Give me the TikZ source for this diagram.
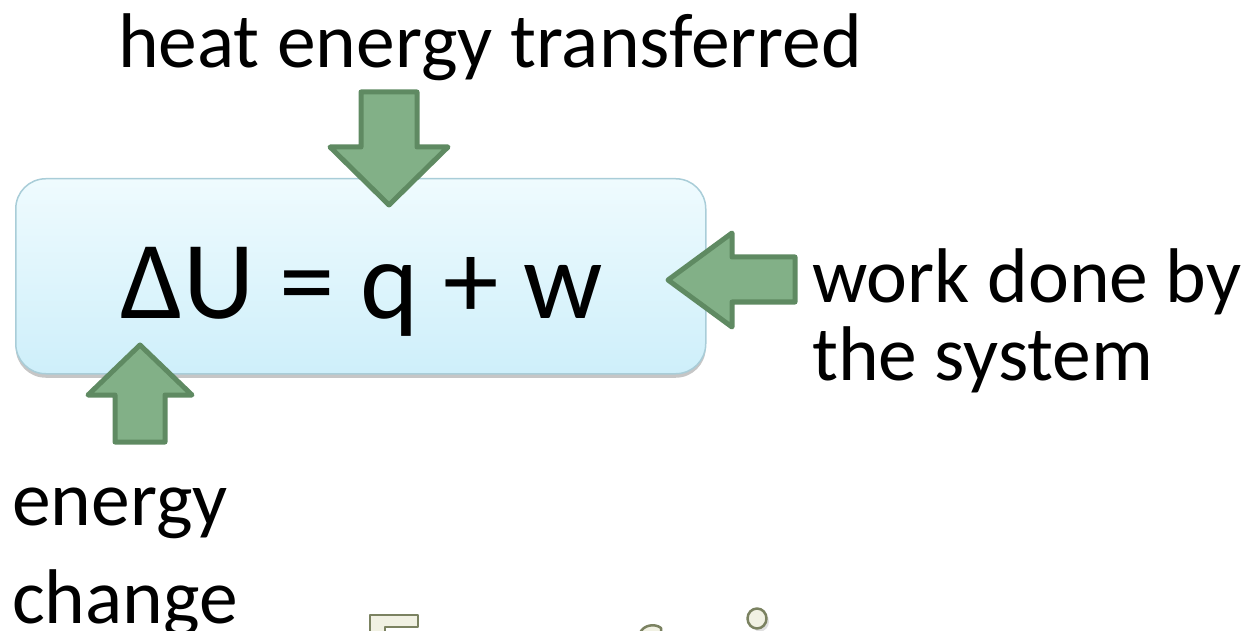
\documentclass[tikz,border=0pt]{standalone}
\usepackage{fontspec}
\setmainfont{Carlito}
\usetikzlibrary{shadows}
\definecolor{arrfill}{HTML}{82B087}
\definecolor{arrline}{HTML}{5F8A62}
\definecolor{boxtop}{HTML}{EFFBFE}
\definecolor{boxbot}{HTML}{CEEFFA}
\definecolor{boxline}{HTML}{A9CDD8}
\definecolor{ivory}{HTML}{F1F1E3}
\definecolor{olive}{HTML}{7B8261}
\tikzset{
  blockarrow/.style={fill=arrfill, draw=arrline, line width=5pt, line join=round},
  label/.style={inner sep=0pt, font=\fontsize{77.5}{78}\selectfont},
  frag/.style={fill=ivory, draw=olive, line width=2.5pt, line join=round},
}
\begin{document}
\begin{tikzpicture}[x=1pt,y=-1pt]
\useasboundingbox (0,0) rectangle (1251,631);
\clip (0,0) rectangle (1251,631);
% equation box
\node[draw=boxline, line width=1.5pt, rounded corners=30pt, top color=boxtop, bottom color=boxbot,
      minimum width=690pt, minimum height=195pt, anchor=north west,
      drop shadow={shadow xshift=0pt, shadow yshift=-4pt, opacity=0.45}] (box) at (15,178) {};
\node[inner sep=0pt, anchor=base, font=\fontsize{111}{120}\selectfont] (eq) at (362,318) {ΔU = q + w};
% block arrows
\draw[blockarrow] (361,92) -- (417,92) -- (417,147) -- (448,147) -- (389,205) -- (330,147) -- (361,147) -- cycle;
\draw[blockarrow] (795,257) -- (795,302) -- (732,302) -- (732,327) -- (668,280) -- (732,233) -- (732,257) -- cycle;
\draw[blockarrow] (115,442) -- (165,442) -- (165,395) -- (192,395) -- (140,345) -- (88,395) -- (115,395) -- cycle;
% labels
\node[label, anchor=base] (heat) at (490,68) {heat energy transferred};
\node[label, anchor=base west, align=left] (work) at (812,380) {work done by\\the system};
\node[label, anchor=base west, align=left, font=\fontsize{77.5}{98}\selectfont] (energy) at (12,623) {energy\\change};
% cut-off title fragments at the bottom edge
\fill[gray!40, opacity=0.6] (760,621.5) ellipse [x radius=9pt, y radius=10pt];
\draw[frag] (370,633) -- (370,615) -- (418,615) -- (418,627) -- (385,627) -- (385,633);
\draw[frag] (640,633) .. controls (643,625) and (655,623) .. (661,628) -- (661,633) -- cycle;
\draw[frag] (757,618.5) ellipse [x radius=9.5pt, y radius=10pt];
\end{tikzpicture}
\end{document}
